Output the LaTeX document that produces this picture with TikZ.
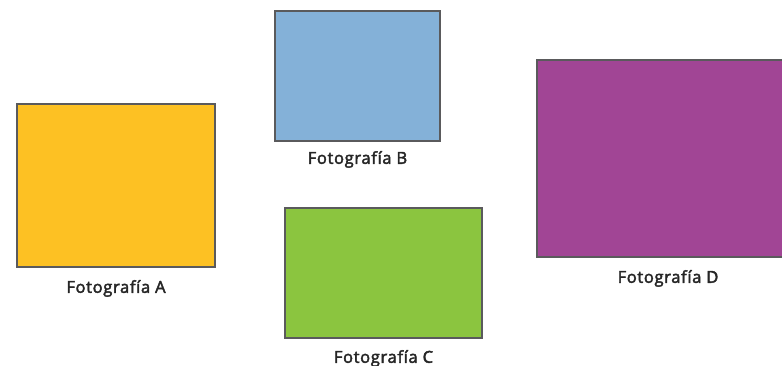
\documentclass[tikz,border=0pt]{standalone}
\usepackage{fontspec}
\setmainfont{Open Sans}
\newfontfamily\capfont{Open Sans}[FakeBold=2.6,LetterSpace=4]
\definecolor{fotoyellow}{RGB}{253,193,35}
\definecolor{fotoblue}{RGB}{132,177,216}
\definecolor{fotogreen}{RGB}{139,197,63}
\definecolor{fotopurple}{RGB}{161,69,149}
\definecolor{rimgray}{RGB}{90,90,92}
\begin{document}
\begin{tikzpicture}[x=1pt,y=1pt,
  foto/.style={draw=rimgray,line width=1.6pt,inner sep=0pt},
  fotocap/.style={anchor=base,inner sep=0pt,text=black!85,font=\capfont\fontsize{16.5}{18}\selectfont}]
  \useasboundingbox (0,0) rectangle (782,365);
  \clip (0,0) rectangle (782,365);
  \node[foto,fill=fotoyellow,minimum width=198pt,minimum height=163pt] (fotoA) at (116,179.5) {};
  \node[foto,fill=fotoblue,minimum width=165pt,minimum height=130pt] (fotoB) at (357.5,289) {};
  \node[foto,fill=fotogreen,minimum width=197pt,minimum height=130pt] (fotoC) at (383.5,92) {};
  \node[foto,fill=fotopurple,minimum width=262pt,minimum height=197pt] (fotoD) at (668,206.5) {};
  \node[fotocap] (capA) at ([yshift=-25pt]fotoA.south) {Fotografía A};
  \node[fotocap] (capB) at ([yshift=-22pt]fotoB.south) {Fotografía B};
  \node[fotocap] (capC) at ([yshift=-24pt]fotoC.south) {Fotografía C};
  \node[fotocap] (capD) at ([yshift=-25pt]fotoD.south) {Fotografía D};
\end{tikzpicture}
\end{document}
